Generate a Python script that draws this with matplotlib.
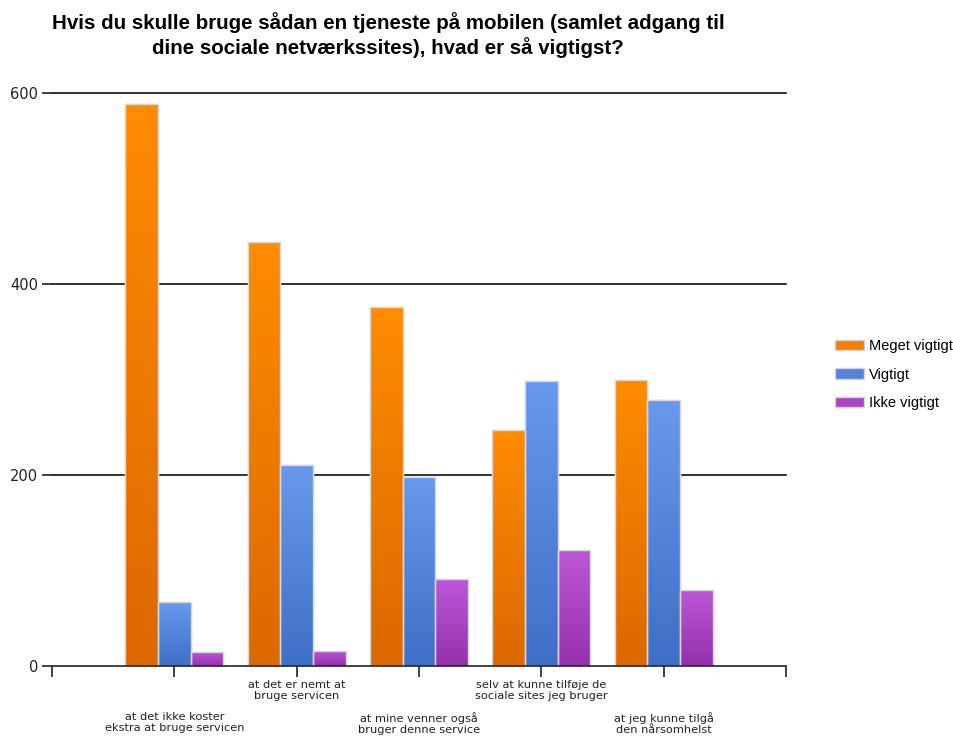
import numpy as np
import matplotlib
matplotlib.use("Agg")
import matplotlib.pyplot as plt
from matplotlib.colors import LinearSegmentedColormap
from matplotlib.patches import Patch
from matplotlib.transforms import blended_transform_factory

title = ("Hvis du skulle bruge sådan en tjeneste på mobilen (samlet adgang til\n"
         "dine sociale netværkssites), hvad er så vigtigst?")

categories = [
    "at det ikke koster\nekstra at bruge servicen",
    "at det er nemt at\nbruge servicen",
    "at mine venner også\nbruger denne service",
    "selv at kunne tilføje de\nsociale sites jeg bruger",
    "at jeg kunne tilgå\nden nårsomhelst",
]
series_names = ["Meget vigtigt", "Vigtigt", "Ikke vigtigt"]
meget_vigtigt = [589, 444, 376, 247, 300]
vigtigt = [67, 210, 198, 298, 279]
ikke_vigtigt = [15, 16, 91, 121, 80]
series_values = [meget_vigtigt, vigtigt, ikke_vigtigt]
y_ticks = [0, 200, 400, 600]

# (top colour, bottom colour, legend colour) for each series
palette = [
    ("#ff8c00", "#dc6800", "#f57f00"),
    ("#6899ec", "#3f6fc6", "#5583dc"),
    ("#bc58d8", "#9530ad", "#aa45c4"),
]

fig = plt.figure(figsize=(9.54, 7.37), dpi=100)
ax = fig.add_axes([52 / 954, 1 - 666 / 737, (786 - 52) / 954, (666 - 93) / 737])

x = np.arange(1, len(categories) + 1)
width = 0.8 / 3
grad = np.linspace(1, 0, 256).reshape(-1, 1)

for i, (vals, (top, bot, mid)) in enumerate(zip(series_values, palette)):
    offs = (i - 1) * width
    bars = ax.bar(x + offs, vals, width, color=mid, edgecolor="#d4d4d4",
                  linewidth=1.0, zorder=3)
    cmap = LinearSegmentedColormap.from_list(f"g{i}", [bot, top])
    for b in bars:
        bx, by = b.get_x(), b.get_y()
        bw, bh = b.get_width(), b.get_height()
        im = ax.imshow(grad, cmap=cmap, aspect="auto",
                       extent=(bx, bx + bw, by, by + bh), zorder=3.5,
                       interpolation="bilinear")
        im.set_clip_path(b)
    # keep a light outline above the gradient fill
    for b in bars:
        ax.add_patch(plt.Rectangle((b.get_x(), 0), b.get_width(), b.get_height(),
                                   fill=False, edgecolor="#d8d8d8", linewidth=1.0,
                                   zorder=4))

ax.set_xlim(0, 6)
ax.set_ylim(0, 600)
ax.set_yticks(y_ticks)
ax.set_yticklabels([str(v) for v in y_ticks], fontsize=10.5, family="DejaVu Sans",
                   color="#222222")
ax.set_xticks(np.arange(0, 7))
ax.set_xticklabels([])
ax.tick_params(axis="x", direction="out", length=8, width=1.2, color="#222222")
ax.tick_params(axis="y", direction="out", length=7, width=1.2, color="#222222",
               pad=3)
for v in y_ticks[1:]:
    ax.axhline(v, color="#111111", linewidth=1.2, zorder=1, clip_on=False)
for s in ["top", "right", "left"]:
    ax.spines[s].set_visible(False)
ax.spines["bottom"].set_linewidth(1.2)
ax.spines["bottom"].set_color("#222222")
ax.spines["bottom"].set_zorder(5)

trans = blended_transform_factory(ax.transData, ax.transAxes)
for k, lab in enumerate(categories):
    upper = (k % 2 == 1)
    ypos = -14 / 573 if upper else -46 / 573
    ax.text(x[k], ypos, lab, transform=trans, ha="center", va="top",
            fontsize=8.2, family="DejaVu Sans", color="#222222",
            linespacing=1.08)

fig.text(388 / 954, 1 - 12 / 737, title, ha="center", va="top", fontsize=14.8,
         fontweight="bold", family="Liberation Sans", linespacing=1.22)

handles = [Patch(facecolor=p[2], edgecolor="#d4d4d4") for p in palette]
fig.legend(handles, series_names, loc="upper left",
           bbox_to_anchor=(835 / 954, 1 - 339 / 737), frameon=False,
           prop={"family": "Liberation Sans", "size": 10.5}, handlelength=2.0,
           handleheight=0.75, labelspacing=1.0, handletextpad=0.35,
           borderpad=0.0, borderaxespad=0.0)

fig.savefig("out.png", dpi=100)
